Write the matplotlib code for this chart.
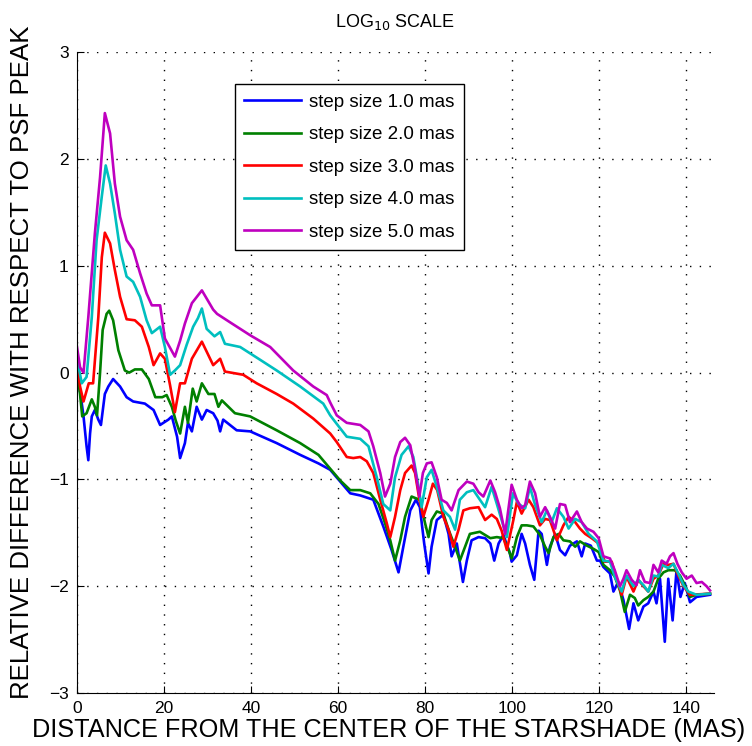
import numpy as np
import matplotlib
matplotlib.use("Agg")
import matplotlib.pyplot as plt

plt.rcParams['font.family'] = ['Liberation Sans', 'DejaVu Sans']

# distance (mas) / log10 relative difference, one pair of arrays per step size
x_s1 = [0, 0.8, 1.5, 2.2, 2.6, 3.0, 3.4, 4.1, 4.9, 5.5, 6.4, 7.2, 8.3, 9.9, 11.4, 12.9,
        15.6, 17.6, 19.1, 21.0, 21.8, 23.0, 23.7, 24.8, 25.5, 26.4, 27.5, 28.7, 29.8,
        31.3, 32.3, 32.9, 33.6, 36.7, 39.8, 45.9, 51.3, 55.5, 58.2, 60.5, 62.8, 65.1,
        68.1, 70.4, 72.3, 73.9, 75.0, 76.6, 77.9, 78.8, 79.8, 80.8, 81.5, 82.7, 84.2,
        85.4, 86.1, 87.3, 88.7, 89.6, 90.7, 92.3, 93.8, 95.0, 95.9, 96.9, 98.0, 99.5,
        99.9, 101.1, 102.2, 103.0, 104.1, 105.1, 106.1, 106.8, 108.0, 108.7, 109.9,
        111.0, 112.2, 113.3, 114.9, 116.0, 116.8, 118.1, 119.5, 120.2, 121.0, 122.5,
        123.3, 124.4, 125.6, 126.9, 127.9, 129.0, 130.2, 131.3, 132.5, 133.2, 134.0,
        135.1, 135.9, 136.9, 137.8, 138.7, 139.7, 140.9, 142.4, 145.5]
y_s1 = [0.05, -0.20, -0.41, -0.69, -0.82, -0.57, -0.41, -0.35, -0.44, -0.49, -0.20,
        -0.13, -0.06, -0.13, -0.23, -0.27, -0.29, -0.35, -0.49, -0.44, -0.41, -0.60,
        -0.80, -0.66, -0.47, -0.55, -0.32, -0.44, -0.35, -0.38, -0.45, -0.55, -0.44,
        -0.54, -0.55, -0.66, -0.77, -0.85, -0.91, -1.02, -1.13, -1.15, -1.19, -1.44,
        -1.66, -1.87, -1.63, -1.29, -1.19, -1.26, -1.60, -1.88, -1.63, -1.38, -1.33,
        -1.51, -1.72, -1.60, -1.96, -1.76, -1.57, -1.54, -1.55, -1.60, -1.76, -1.60,
        -1.52, -1.69, -1.77, -1.71, -1.51, -1.60, -1.80, -1.94, -1.48, -1.51, -1.80,
        -1.63, -1.51, -1.66, -1.71, -1.62, -1.58, -1.72, -1.60, -1.62, -1.76, -1.76,
        -1.82, -1.88, -2.05, -1.96, -2.13, -2.40, -2.16, -2.32, -2.19, -2.16, -2.05,
        -2.16, -1.93, -2.52, -1.93, -2.32, -1.85, -2.10, -1.97, -2.15, -2.10, -2.08]

x_s2 = [0, 0.7, 1.2, 2.2, 3.4, 4.1, 4.6, 5.3, 5.9, 6.8, 7.4, 8.3, 9.5, 11.0, 12.0, 13.3,
        14.9, 16.5, 18.0, 19.6, 20.6, 21.8, 22.7, 23.7, 24.8, 25.5, 26.6, 27.5, 28.7,
        30.2, 31.6, 32.5, 33.3, 36.3, 39.8, 45.9, 51.3, 55.5, 58.2, 60.5, 62.8, 65.1,
        67.4, 69.3, 70.8, 72.0, 73.1, 74.3, 75.4, 76.9, 78.1, 78.8, 80.0, 80.8, 81.5,
        82.7, 84.2, 85.4, 86.9, 88.0, 89.2, 90.3, 92.6, 95.0, 96.5, 98.0, 99.2, 99.9,
        101.1, 102.2, 103.4, 104.9, 106.4, 107.6, 108.4, 109.5, 110.7, 111.8, 113.3,
        114.5, 115.6, 117.2, 118.7, 119.9, 121.0, 122.5, 123.6, 124.8, 125.9, 127.1,
        128.2, 129.0, 130.2, 131.3, 132.5, 133.6, 134.8, 135.9, 137.4, 138.6, 139.7,
        140.9, 142.4, 145.5]
y_s2 = [0.0, -0.20, -0.41, -0.38, -0.25, -0.32, -0.40, 0.0, 0.40, 0.55, 0.58, 0.49,
        0.21, 0.02, 0.0, 0.03, 0.03, -0.06, -0.23, -0.23, -0.21, -0.32, -0.45, -0.57,
        -0.32, -0.47, -0.15, -0.27, -0.10, -0.20, -0.20, -0.32, -0.26, -0.38, -0.41,
        -0.54, -0.66, -0.77, -0.90, -1.01, -1.10, -1.10, -1.13, -1.23, -1.41, -1.57,
        -1.76, -1.57, -1.35, -1.16, -1.18, -1.19, -1.41, -1.54, -1.38, -1.30, -1.32,
        -1.47, -1.63, -1.76, -1.63, -1.51, -1.49, -1.55, -1.54, -1.55, -1.66, -1.74,
        -1.54, -1.43, -1.43, -1.44, -1.52, -1.63, -1.69, -1.54, -1.51, -1.57, -1.58,
        -1.63, -1.58, -1.62, -1.65, -1.68, -1.80, -1.85, -1.91, -2.04, -2.24, -2.08,
        -2.11, -2.18, -2.13, -2.10, -2.05, -1.93, -1.87, -1.85, -1.85, -1.90, -1.99,
        -2.10, -2.08, -2.07]

x_s3 = [0, 0.7, 1.5, 2.7, 3.7, 4.9, 5.7, 6.4, 7.6, 8.7, 9.9, 11.4, 13.3, 14.9, 16.5,
        17.6, 19.1, 20.2, 21.4, 22.5, 23.7, 24.8, 26.4, 28.7, 31.3, 32.9, 34.0, 38.2,
        41.3, 45.9, 49.7, 54.3, 58.2, 59.7, 62.0, 63.5, 65.1, 66.6, 68.1, 69.7, 71.2,
        72.0, 73.1, 74.3, 75.4, 76.9, 77.7, 78.7, 79.6, 80.8, 81.8, 82.8, 84.2, 85.4,
        86.5, 87.7, 88.8, 90.3, 92.3, 93.8, 95.3, 96.5, 97.6, 98.8, 100.3, 101.1,
        102.2, 103.8, 104.9, 106.4, 107.6, 108.7, 110.3, 111.8, 113.0, 114.5, 115.6,
        116.8, 118.3, 119.9, 121.3, 122.9, 124.0, 125.2, 126.3, 127.9, 129.0, 130.2,
        131.3, 132.5, 133.6, 134.8, 135.9, 137.1, 138.2, 139.4, 140.9, 145.5]
y_s3 = [0.08, -0.13, -0.27, -0.10, -0.10, 0.52, 1.08, 1.31, 1.21, 0.96, 0.71, 0.50,
        0.49, 0.43, 0.24, 0.07, 0.18, 0.13, -0.12, -0.37, -0.10, -0.10, 0.13, 0.29,
        0.07, 0.13, 0.01, -0.02, -0.10, -0.20, -0.29, -0.43, -0.57, -0.65, -0.79, -0.80,
        -0.79, -0.83, -0.94, -1.19, -1.41, -1.54, -1.35, -1.10, -0.94, -0.87, -0.94,
        -1.19, -1.35, -1.19, -1.04, -1.10, -1.35, -1.47, -1.63, -1.47, -1.29, -1.27,
        -1.26, -1.38, -1.33, -1.37, -1.48, -1.66, -1.38, -1.21, -1.32, -1.19, -1.26,
        -1.43, -1.37, -1.38, -1.57, -1.43, -1.35, -1.40, -1.46, -1.51, -1.55, -1.60,
        -1.77, -1.77, -1.93, -2.08, -1.91, -2.05, -1.94, -2.00, -2.05, -1.93, -1.90,
        -1.79, -1.80, -1.79, -1.90, -2.00, -2.08, -2.07]

x_s4 = [0, 1.1, 2.2, 3.4, 4.5, 5.7, 6.6, 7.6, 8.7, 9.9, 11.4, 12.9, 14.5, 16.0, 17.2,
        19.1, 20.2, 21.4, 22.5, 23.7, 25.2, 26.7, 27.8, 28.7, 29.8, 31.6, 32.9, 34.0,
        37.5, 42.1, 45.9, 51.3, 56.6, 58.2, 59.7, 62.0, 65.1, 67.0, 68.9, 70.4, 72.0,
        73.1, 74.6, 76.2, 77.3, 78.5, 79.2, 80.4, 81.5, 82.7, 84.2, 85.7, 86.9, 88.0,
        89.6, 91.1, 92.6, 93.8, 95.3, 96.5, 97.6, 98.8, 100.2, 101.5, 103.0, 104.1,
        105.3, 106.8, 108.0, 109.1, 110.3, 111.8, 113.0, 114.5, 116.0, 117.6, 119.5,
        121.0, 122.5, 123.6, 125.2, 126.3, 127.9, 129.0, 130.2, 131.3, 132.5, 133.6,
        134.4, 135.9, 137.1, 138.2, 139.4, 140.5, 142.4, 145.5]
y_s4 = [0.13, -0.10, -0.04, 0.52, 1.24, 1.65, 1.94, 1.77, 1.49, 1.15, 0.90, 0.85, 0.71,
        0.49, 0.37, 0.43, 0.24, -0.02, 0.02, 0.07, 0.26, 0.43, 0.51, 0.60, 0.41, 0.34,
        0.38, 0.27, 0.24, 0.12, 0.02, -0.13, -0.29, -0.40, -0.48, -0.60, -0.62, -0.69,
        -0.98, -1.23, -1.29, -0.98, -0.77, -0.69, -0.79, -1.07, -1.26, -0.98, -0.91,
        -1.07, -1.29, -1.35, -1.47, -1.19, -1.12, -1.10, -1.19, -1.26, -1.07, -1.23,
        -1.38, -1.54, -1.13, -1.23, -1.27, -1.07, -1.24, -1.40, -1.29, -1.40, -1.27,
        -1.35, -1.46, -1.37, -1.40, -1.51, -1.58, -1.76, -1.77, -1.91, -2.05, -1.90,
        -2.00, -1.94, -1.99, -2.05, -1.90, -1.91, -1.80, -1.83, -1.79, -1.88, -1.99,
        -2.05, -2.08, -2.07]

x_s5 = [0, 0.7, 1.5, 2.6, 4.1, 5.3, 6.4, 7.6, 8.7, 9.9, 11.4, 12.9, 14.5, 16.0, 17.2,
        19.1, 20.2, 22.5, 23.7, 24.8, 26.4, 28.7, 31.3, 32.2, 35.6, 39.8, 44.4, 49.7,
        54.3, 57.4, 58.2, 59.7, 62.0, 65.1, 67.0, 68.1, 69.7, 70.8, 72.0, 73.1, 74.3,
        75.4, 76.6, 77.7, 78.7, 79.5, 80.4, 81.5, 82.7, 83.8, 85.0, 86.1, 87.7, 89.6,
        91.1, 92.3, 93.4, 95.0, 96.1, 97.2, 98.4, 99.9, 101.1, 102.2, 103.0, 104.1,
        105.3, 106.4, 107.6, 108.7, 109.9, 111.0, 112.2, 113.3, 114.9, 116.0, 117.2,
        118.7, 119.9, 121.0, 122.5, 123.6, 124.8, 125.6, 126.3, 127.5, 128.6, 129.4,
        130.5, 131.7, 132.5, 133.6, 134.4, 135.5, 136.3, 137.1, 138.0, 139.0, 140.1,
        141.3, 142.4, 143.6, 144.7, 145.5]
y_s5 = [0.24, 0.05, 0.0, 0.52, 1.30, 1.83, 2.43, 2.24, 1.77, 1.46, 1.24, 1.15, 0.93,
        0.74, 0.63, 0.63, 0.32, 0.15, 0.30, 0.46, 0.65, 0.77, 0.59, 0.55, 0.46, 0.35,
        0.24, 0.02, -0.13, -0.21, -0.28, -0.40, -0.47, -0.49, -0.55, -0.69, -0.94,
        -1.16, -1.04, -0.79, -0.65, -0.61, -0.68, -0.91, -1.16, -0.94, -0.85, -0.84,
        -0.98, -1.19, -1.22, -1.29, -1.10, -1.02, -1.04, -1.12, -1.16, -1.01, -1.12,
        -1.27, -1.51, -1.05, -1.19, -1.27, -1.24, -1.02, -1.13, -1.35, -1.26, -1.35,
        -1.46, -1.23, -1.24, -1.40, -1.30, -1.40, -1.46, -1.49, -1.55, -1.72, -1.74,
        -1.85, -2.00, -1.93, -1.85, -1.94, -1.99, -1.85, -1.96, -1.97, -1.80, -1.87,
        -1.76, -1.79, -1.72, -1.69, -1.79, -1.87, -1.93, -1.90, -1.97, -1.96, -2.00,
        -2.04]

series = [(x_s1, y_s1, 'step size 1.0 mas', (0, 0, 1)),
          (x_s2, y_s2, 'step size 2.0 mas', (0, 0.5, 0)),
          (x_s3, y_s3, 'step size 3.0 mas', (1, 0, 0)),
          (x_s4, y_s4, 'step size 4.0 mas', (0, 0.75, 0.75)),
          (x_s5, y_s5, 'step size 5.0 mas', (0.75, 0, 0.75))]

fig = plt.figure(figsize=(7.52, 7.46), dpi=100)
ax = fig.add_axes([0.1024, 0.071, 0.847, 0.859])

for xs, ys, lab, col in series:
    ax.plot(xs, ys, color=col, lw=1.9, label=lab)

ax.set_xlim(0, 146.4)
ax.set_ylim(-3, 3)
ax.set_xticks(np.arange(0, 141, 20))
ax.set_yticks(np.arange(-3, 4, 1))
ax.grid(True, color='k', linestyle=(0, (1, 6)), linewidth=1.0)
ax.spines['top'].set_visible(False)
ax.spines['right'].set_visible(False)
ax.tick_params(direction='in', labelsize=12.5, length=5, pad=6)

ax.set_title('LOG$_{10}$ SCALE', fontsize=13, pad=18)
ax.set_xlabel('DISTANCE FROM THE CENTER OF THE STARSHADE (MAS)', fontsize=18.2)
ax.set_ylabel('RELATIVE DIFFERENCE WITH RESPECT TO PSF PEAK', fontsize=18.6)
ax.xaxis.set_label_coords(0.49, -0.0395)
ax.yaxis.set_label_coords(-0.068, 0.516)

leg = ax.legend(loc='upper left', bbox_to_anchor=(0.248, 0.95), borderaxespad=0,
                fontsize=13.5, handlelength=3.0, handletextpad=0.45, labelspacing=0.82,
                borderpad=0.5, fancybox=False, framealpha=1, edgecolor='k')
leg.get_frame().set_linewidth(1.0)

fig.savefig('out.png', dpi=100)
